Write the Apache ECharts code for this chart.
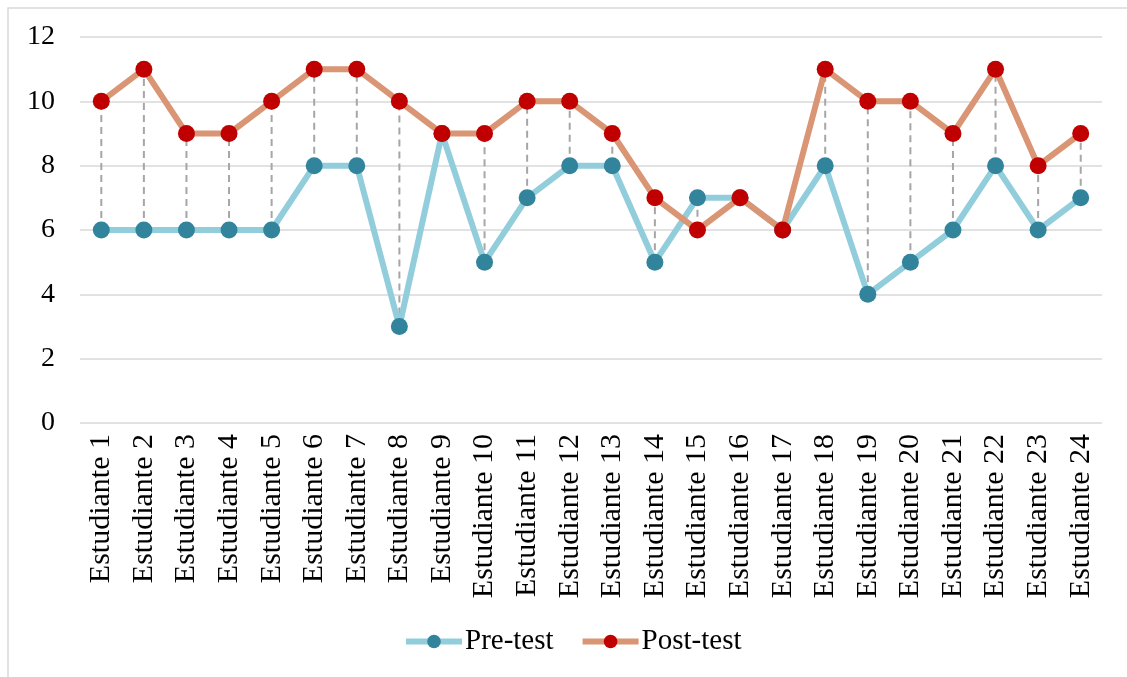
<!DOCTYPE html>
<html><head><meta charset="utf-8">
<script src="https://cdn.jsdelivr.net/npm/echarts@6/dist/echarts.min.js"></script>
<style>html,body{margin:0;padding:0;background:#fff;}#c{width:1127px;height:677px;}</style>
</head><body><div id="c"></div>
<script>
const categories = Array.from({length:24},(_,i)=>'Estudiante '+(i+1));
const preTest = [6,6,6,6,6,8,8,3,9,5,7,8,8,5,7,7,6,8,4,5,6,8,6,7];
const postTest = [10,11,9,9,10,11,11,10,9,9,10,10,9,7,6,7,6,11,10,10,9,11,8,9];
const yTicks = {min:0,max:12,interval:2};
const font = 'Liberation Serif';
const chart = echarts.init(document.getElementById('c'),null,{renderer:'canvas'});
chart.setOption({
  animation:false,
  backgroundColor:'#fff',
  graphic:[{type:'rect',shape:{x:8,y:8,width:1140,height:700},style:{fill:'none',stroke:'#d9d9d9',lineWidth:1.5},z:-1}],
  legend:{bottom:16,left:398,itemWidth:56,itemHeight:17,itemGap:26,
    textStyle:{fontFamily:font,fontSize:29,color:'#000',padding:[0,0,0,-2]},
    data:[
      {name:'Pre-test',lineStyle:{width:6,color:'#92cddc'},itemStyle:{color:'#31849b'}},
      {name:'Post-test',lineStyle:{width:6,color:'#d99574'},itemStyle:{color:'#c00000'}}
    ]},
  grid:{left:80,right:25,top:37,bottom:254,containLabel:false},
  xAxis:{type:'category',data:categories,boundaryGap:true,
    axisLine:{show:false},axisTick:{show:false},
    axisLabel:{rotate:90,fontFamily:font,fontSize:30,color:'#000',margin:11,interval:0}},
  yAxis:{type:'value',min:yTicks.min,max:yTicks.max,interval:yTicks.interval,
    axisLine:{show:false},axisTick:{show:false},
    axisLabel:{fontFamily:font,fontSize:28,color:'#000',margin:25},
    splitLine:{lineStyle:{color:'#d9d9d9',width:1.5}}},
  series:[
    {type:'custom',name:'hl',z:1,silent:true,
      renderItem:function(params,api){
        const i=api.value(0);
        const a=api.coord([i,api.value(1)]);
        const b=api.coord([i,api.value(2)]);
        return {type:'line',shape:{x1:a[0],y1:a[1],x2:b[0],y2:b[1]},
          style:{stroke:'#a6a6a6',lineWidth:2,lineDash:[7,5]}};
      },
      data:preTest.map((v,i)=>[i,v,postTest[i]])},
    {type:'line',name:'Pre-test',data:preTest,z:2,symbol:'circle',symbolSize:17,
      lineStyle:{color:'#92cddc',width:6},itemStyle:{color:'#31849b'}},
    {type:'line',name:'Post-test',data:postTest,z:3,symbol:'circle',symbolSize:17,
      lineStyle:{color:'#d99574',width:6},itemStyle:{color:'#c00000'}}
  ]
});
</script></body></html>
